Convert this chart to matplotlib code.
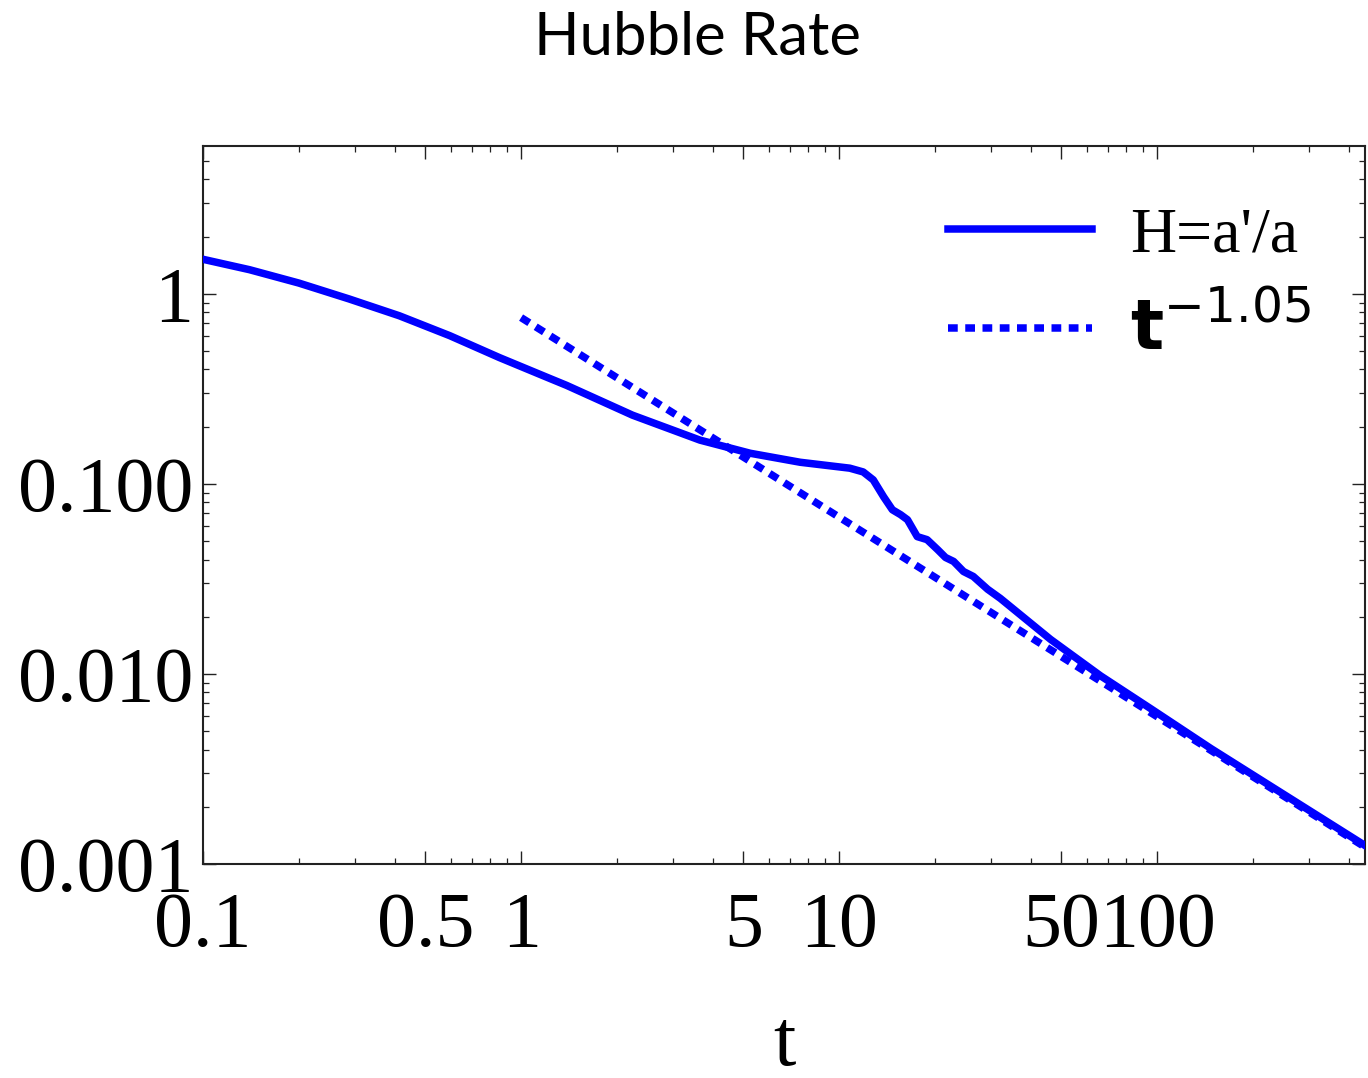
import matplotlib
matplotlib.use("Agg")
import matplotlib.pyplot as plt
import numpy as np
from matplotlib.ticker import FixedLocator, FixedFormatter, NullFormatter

# numerical solution H = a'/a
t = [0.1, 0.14, 0.2, 0.288, 0.414, 0.596, 0.855, 1.23, 1.39, 2.24, 3.65, 5.25, 7.54,
     10.8, 11.9, 12.8, 13.8, 14.7, 15.6, 16.4, 17.6, 18.9, 20.4, 21.6, 22.9,
     24.6, 26.4, 29.3, 32.1, 46.2, 66.4, 95.5, 147.6, 454]
H = [1.52, 1.34, 1.14, 0.94, 0.767, 0.603, 0.462, 0.359, 0.33, 0.23, 0.170, 0.145, 0.130,
     0.121, 0.1156, 0.105, 0.0855, 0.0731, 0.0689, 0.0648, 0.0528, 0.0509, 0.0451, 0.041, 0.0391,
     0.0346, 0.0326, 0.0279, 0.025, 0.0152, 0.00977, 0.00656, 0.00405, 0.00124]

# power law fit
fit_amp = 0.75
fit_exp = -1.05
fit_t = np.array([1.0, 450.0])
fit_H = fit_amp * fit_t ** fit_exp

xticks = [0.1, 0.5, 1, 5, 10, 50, 100]
xticklabels = ["0.1", "0.5", "1", "5", "10", "50", "100"]
yticks = [0.001, 0.01, 0.1, 1]
yticklabels = ["0.001", "0.010", "0.100", "1"]

serif = "Liberation Serif"
blue = "#0000ff"

fig = plt.figure(figsize=(13.68, 10.78), dpi=100)
ax = fig.add_axes([0.1484, 0.1985, 0.8494, 0.6661])

ax.plot(fit_t, fit_H, color=blue, lw=5.4, linestyle=(0, (1.3, 1.0)),
        dash_capstyle="butt", label=r"$\mathbf{t}^{-1.05}$", zorder=2)
ax.plot(t, H, color=blue, lw=5.4, label="H=a'/a", zorder=3)

ax.set_xscale("log")
ax.set_yscale("log")
ax.set_xlim(0.1, 450)
ax.set_ylim(0.001, 6)

# major / minor ticks
xminor = [d * s for d in [0.1, 1, 10, 100] for s in [2, 3, 4, 6, 7, 8, 9] if d * s < 450]
yminor = [d * s for d in [0.001, 0.01, 0.1, 1] for s in range(2, 10) if d * s < 6]
ax.xaxis.set_major_locator(FixedLocator(xticks))
ax.xaxis.set_major_formatter(FixedFormatter(xticklabels))
ax.xaxis.set_minor_locator(FixedLocator(xminor))
ax.xaxis.set_minor_formatter(NullFormatter())
ax.yaxis.set_major_locator(FixedLocator(yticks))
ax.yaxis.set_major_formatter(FixedFormatter(yticklabels))
ax.yaxis.set_minor_locator(FixedLocator(yminor))
ax.yaxis.set_minor_formatter(NullFormatter())

ax.tick_params(which="both", direction="in", top=True, right=True, color="#222222")
ax.tick_params(which="major", length=9.5, width=1.0)
ax.tick_params(which="minor", length=4.5, width=0.9)
ax.tick_params(axis="x", which="major", pad=20)
ax.tick_params(axis="y", which="major", pad=7)
for lab in ax.get_xticklabels() + ax.get_yticklabels():
    lab.set_fontfamily(serif)
    lab.set_fontsize(56)

for sp in ax.spines.values():
    sp.set_linewidth(1.5)
    sp.set_color("#222222")

ax.set_xlabel("t", fontfamily=serif, fontsize=58)
ax.xaxis.set_label_coords(0.5, -0.28)
ax.xaxis.label.set_va("baseline")

handles, labels = ax.get_legend_handles_labels()
leg = ax.legend(handles[::-1], labels[::-1], loc="center left",
                bbox_to_anchor=(0.641, 0.806), frameon=False, fontsize=46,
                handlelength=2.25, handletextpad=0.6, labelspacing=0.5,
                borderpad=0, borderaxespad=0)
txt = leg.get_texts()
txt[0].set_fontfamily(serif)
txt[1].set_fontsize(50)

fig.text(0.51, 0.949, "Hubble Rate", fontfamily="Lato", fontsize=43,
         ha="center", va="baseline")

fig.savefig("out.png", dpi=100)
